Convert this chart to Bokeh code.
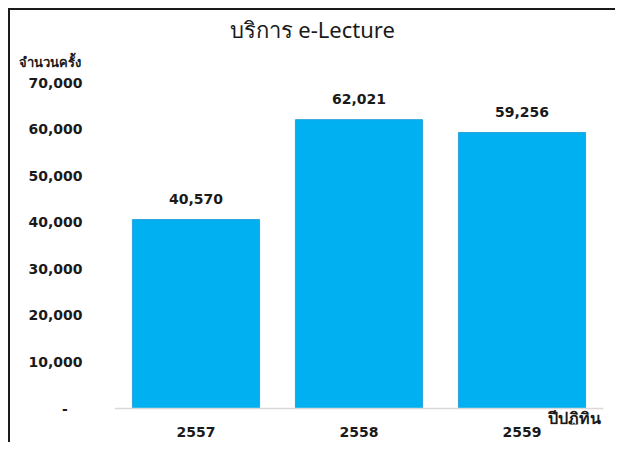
from bokeh.plotting import figure
from bokeh.models import ColumnDataSource, LabelSet, Label, Title, FixedTicker, NumeralTickFormatter, Range1d, FactorRange, Span
from bokeh.core.properties import value
from bokeh.embed import file_html
from bokeh.resources import INLINE

years = ["2557", "2558", "2559"]
counts = [40570, 62021, 59256]
count_labels = ["40,570", "62,021", "59,256"]
y_ticks = [0, 10000, 20000, 30000, 40000, 50000, 60000, 70000]
title_text = "บริการ e-Lecture"
y_title = "จำนวนครั้ง"
x_title = "ปีปฏิทิน"

FONT = "Noto Sans"
NUM_FONT = "DejaVu Sans"

src = ColumnDataSource(dict(x=years, top=counts, lab=count_labels))

p = figure(width=607, height=434, output_backend="svg", toolbar_location=None,
           x_range=FactorRange(*years, range_padding=0), y_range=Range1d(-3430, 70000),
           min_border_left=104, min_border_right=14, min_border_top=72, min_border_bottom=20,
           background_fill_color="white", border_fill_color="white")
p.styles = {"border-top": "2px solid #1a1a1a", "border-left": "2px solid #1a1a1a",
            "margin-left": "8px", "margin-top": "8px"}
p.outline_line_color = None
p.xgrid.visible = False
p.ygrid.visible = False

p.vbar(x="x", top="top", bottom=0, width=0.78, source=src, fill_color="#00B0F0", line_color="#2aa3dc", line_width=1)
p.add_layout(Span(location=0, dimension="width", line_color="#d9d9d9", line_width=1.5))

p.add_layout(LabelSet(x="x", y="top", text="lab", source=src, text_align="center", text_baseline="bottom",
                      y_offset=16, text_font=value(NUM_FONT), text_font_style="bold", text_font_size="14px",
                      text_color="#1a1a1a"))

# y axis
p.yaxis.ticker = FixedTicker(ticks=y_ticks)
p.yaxis.formatter = NumeralTickFormatter(format="0,0")
p.yaxis.major_label_overrides = {0: "-\u00a0\u00a0\u00a0"}
p.yaxis.axis_line_color = None
p.yaxis.major_tick_line_color = None
p.yaxis.minor_tick_line_color = None
p.yaxis.major_tick_out = 0
p.yaxis.major_label_standoff = 32
p.yaxis.major_label_text_font = NUM_FONT
p.yaxis.major_label_text_font_style = "bold"
p.yaxis.major_label_text_font_size = "14px"
p.yaxis.major_label_text_color = "#1a1a1a"

# x axis
p.xaxis.axis_line_color = None
p.xaxis.major_tick_line_color = None
p.xaxis.minor_tick_line_color = None
p.xaxis.major_tick_out = 0
p.xaxis.major_label_standoff = 2
p.xaxis.major_label_text_font = NUM_FONT
p.xaxis.major_label_text_font_style = "bold"
p.xaxis.major_label_text_font_size = "14px"
p.xaxis.major_label_text_color = "#1a1a1a"

p.add_layout(Label(x=3, y=0, text=x_title, text_align="right", text_baseline="middle", x_offset=-3, y_offset=-9,
                   text_font=FONT, text_font_style="bold", text_font_size="16px", text_color="#1a1a1a"))

p.add_layout(Title(text=y_title, align="left", offset=-96, text_font=FONT, text_font_style="bold",
                   text_font_size="13px", text_color="#1a1a1a", standoff=19, vertical_align="top"), "above")
p.add_layout(Title(text=title_text, align="left", offset=115, text_font=FONT, text_font_style="normal",
                   text_font_size="22px", text_color="#1a1a1a", standoff=0, vertical_align="bottom"), "above")

open("out.html", "w").write(file_html(p, INLINE))
